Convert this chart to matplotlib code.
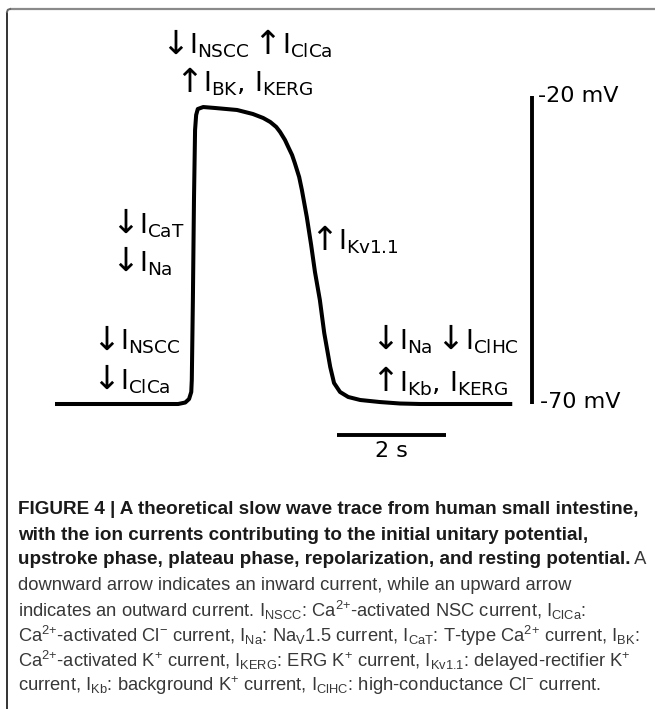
import matplotlib
matplotlib.use('Agg')
import matplotlib.pyplot as plt

# ===== DATA =====
# slow wave trace (time in s, membrane potential in mV)
t_s = [0.0, 2.26, 2.39, 2.46, 2.50, 2.51, 2.53, 2.55, 2.57, 2.59, 2.62, 2.72,
       2.94, 3.34, 3.63, 3.82, 3.95, 4.06, 4.13, 4.22, 4.28, 4.35, 4.40, 4.48,
       4.53, 4.62, 4.70, 4.77, 4.86, 4.94, 5.05, 5.12, 5.23, 5.38, 5.60, 5.96,
       6.33, 6.70, 8.39]
v_mv = [-70.0, -70.0, -69.76, -69.19, -68.05, -66.10, -53.12, -36.88, -25.52,
        -23.08, -22.11, -21.79, -21.95, -22.27, -22.92, -23.57, -24.22, -25.03,
        -25.84, -27.14, -28.28, -29.58, -30.88, -33.15, -35.26, -39.64, -44.19,
        -48.57, -53.12, -58.47, -63.99, -66.59, -68.05, -68.86, -69.35, -69.68,
        -69.92, -70.0, -70.0]

# scale bars
vbar_t = 8.75
vbar_mv = [-70, -20]
hbar_t = [5.17, 7.17]
hbar_mv = -75.0
vbar_labels = ['-20 mV', '-70 mV']
hbar_label = '2 s'

# ion current labels: ([(arrow, current), ...], left x px, baseline y px)
cur_labels = [
    ([('↓', r'$\mathrm{I}_{\mathrm{NSCC}}$'), ('↑', r'$\mathrm{I}_{\mathrm{ClCa}}$')], 161, 54),
    ([('↑', r'$\mathrm{I}_{\mathrm{BK}}$,'), ('', r'$\mathrm{I}_{\mathrm{KERG}}$')], 175, 92),
    ([('↓', r'$\mathrm{I}_{\mathrm{CaT}}$')], 111, 233),
    ([('↓', r'$\mathrm{I}_{\mathrm{Na}}$')], 111, 271),
    ([('↑', r'$\mathrm{I}_{\mathrm{Kv1.1}}$')], 310, 250),
    ([('↓', r'$\mathrm{I}_{\mathrm{NSCC}}$')], 92, 350),
    ([('↓', r'$\mathrm{I}_{\mathrm{ClCa}}$')], 92, 389),
    ([('↓', r'$\mathrm{I}_{\mathrm{Na}}$'), ('↓', r'$\mathrm{I}_{\mathrm{ClHC}}$')], 371, 349),
    ([('↑', r'$\mathrm{I}_{\mathrm{Kb}}$,'), ('', r'$\mathrm{I}_{\mathrm{KERG}}$')], 371, 391),
]

cap_bold = [
    'FIGURE 4 | A theoretical slow wave trace from human small intestine,',
    'with the ion currents contributing to the initial unitary potential,',
    'upstroke phase, plateau phase, repolarization, and resting potential.',
]
cap_tail = ' A'
cap_normal = [
    'downward arrow indicates an inward current, while an upward arrow',
    r'indicates an outward current. I$_{\mathrm{NSCC}}$: Ca$^{2{+}}$-activated NSC current, I$_{\mathrm{ClCa}}$:',
    r'Ca$^{2{+}}$-activated Cl$^{-}$ current, I$_{\mathrm{Na}}$: Na$_{\mathrm{V}}$1.5 current, I$_{\mathrm{CaT}}$: T-type Ca$^{2{+}}$ current, I$_{\mathrm{BK}}$:',
    r'Ca$^{2{+}}$-activated K$^{+}$ current, I$_{\mathrm{KERG}}$: ERG K$^{+}$ current, I$_{\mathrm{Kv1.1}}$: delayed-rectifier K$^{+}$',
    r'current, I$_{\mathrm{Kb}}$: background K$^{+}$ current, I$_{\mathrm{ClHC}}$: high-conductance Cl$^{-}$ current.',
]

# ===== FONTS =====
cap_font = 'Liberation Sans'
cap_size = 13.2
cap_bold_size = 13.6
plt.rcParams['mathtext.fontset'] = 'custom'
plt.rcParams['mathtext.rm'] = cap_font
plt.rcParams['mathtext.it'] = cap_font + ':italic'
plt.rcParams['mathtext.bf'] = cap_font + ':bold'

# ===== FIGURE =====
fig = plt.figure(figsize=(6.55, 7.09), dpi=100)
W, H = 655, 709

# overlay in pixel coordinates (frame, labels, caption)
ax_px = fig.add_axes([0, 0, 1, 1])
ax_px.set_xlim(0, W)
ax_px.set_ylim(H, 0)
ax_px.axis('off')

# frame
ax_px.plot([7, 7], [H, 12], color='#333333', lw=1.4, solid_capstyle='butt')
ax_px.plot([10, W], [9, 9], color='#8a8a8a', lw=1.6, solid_capstyle='butt')
ax_px.plot([7, 7.8, 10], [12, 9.8, 9], color='#666666', lw=1.4)

# trace axes in data units
x0, px_per_s = 55, 54.5
y70, px_per_mv = 404, 6.16
xlim = (0, 10)
ylim = (-80, -15)
left = x0 / W
width = (xlim[1] - xlim[0]) * px_per_s / W
top_px = y70 - (ylim[1] + 70) * px_per_mv
bot_px = y70 - (ylim[0] + 70) * px_per_mv
ax = fig.add_axes([left, 1 - bot_px / H, width, (bot_px - top_px) / H])
ax.set_xlim(*xlim)
ax.set_ylim(*ylim)
ax.patch.set_alpha(0)
ax.axis('off')

ax.plot(t_s, v_mv, color='black', lw=2.9, solid_joinstyle='round',
        solid_capstyle='butt')
ax.plot([vbar_t, vbar_t], vbar_mv, color='black', lw=2.8, solid_capstyle='butt')
ax.plot(hbar_t, [hbar_mv, hbar_mv], color='black', lw=2.8,
        solid_capstyle='butt')

scale_kw = dict(fontsize=16, family='DejaVu Sans', math_fontfamily='dejavusans',
                color='black')
ax.text(vbar_t + 0.12, vbar_mv[1], vbar_labels[0], ha='left', va='center',
        **scale_kw)
ax.text(vbar_t + 0.14, vbar_mv[0] + 0.3, vbar_labels[1], ha='left', va='center',
        **scale_kw)
ax.text(sum(hbar_t) / 2, hbar_mv - 2.7, hbar_label, ha='center', va='center',
        **scale_kw)


# ion labels: big arrow glyph followed by I with subscript
def ion_label(segs, x, y):
    prev = None
    for arrow, body in segs:
        if prev is None:
            xy, xyc, off = (x, y), 'data', (0, 0)
        else:
            gap = 3 if arrow else 7
            xy, xyc, off = (1, y), (prev, 'data'), (gap, 0)
        if arrow:
            prev = ax_px.annotate(arrow, xy=xy, xycoords=xyc, xytext=off,
                                  textcoords='offset points', ha='left',
                                  va='baseline', fontsize=24,
                                  family='DejaVu Sans', color='black')
            xy, xyc, off = (1, y), (prev, 'data'), (0, 0)
        prev = ax_px.annotate(body, xy=xy, xycoords=xyc, xytext=off,
                              textcoords='offset points', ha='left',
                              va='baseline', **dict(scale_kw, fontsize=19))


for segs, x, y in cur_labels:
    ion_label(segs, x, y)

# caption
cap_x = 18
cap_y = [507, 533, 558]
for i, line in enumerate(cap_bold):
    t = ax_px.text(cap_x, cap_y[i], line, ha='left', va='center_baseline',
                   family=cap_font, fontsize=cap_bold_size, fontweight='bold',
                   color='#1a1a1a')
ax_px.annotate(cap_tail, xy=(1, 0), xycoords=t, ha='left', va='bottom',
               family=cap_font, fontsize=cap_size, color='#383838')

norm_y = [583, 608, 633, 658, 683]
for i, line in enumerate(cap_normal):
    ax_px.text(cap_x, norm_y[i], line, ha='left', va='center_baseline',
               family=cap_font, fontsize=cap_size, color='#383838')

fig.savefig('out.png', dpi=100)
